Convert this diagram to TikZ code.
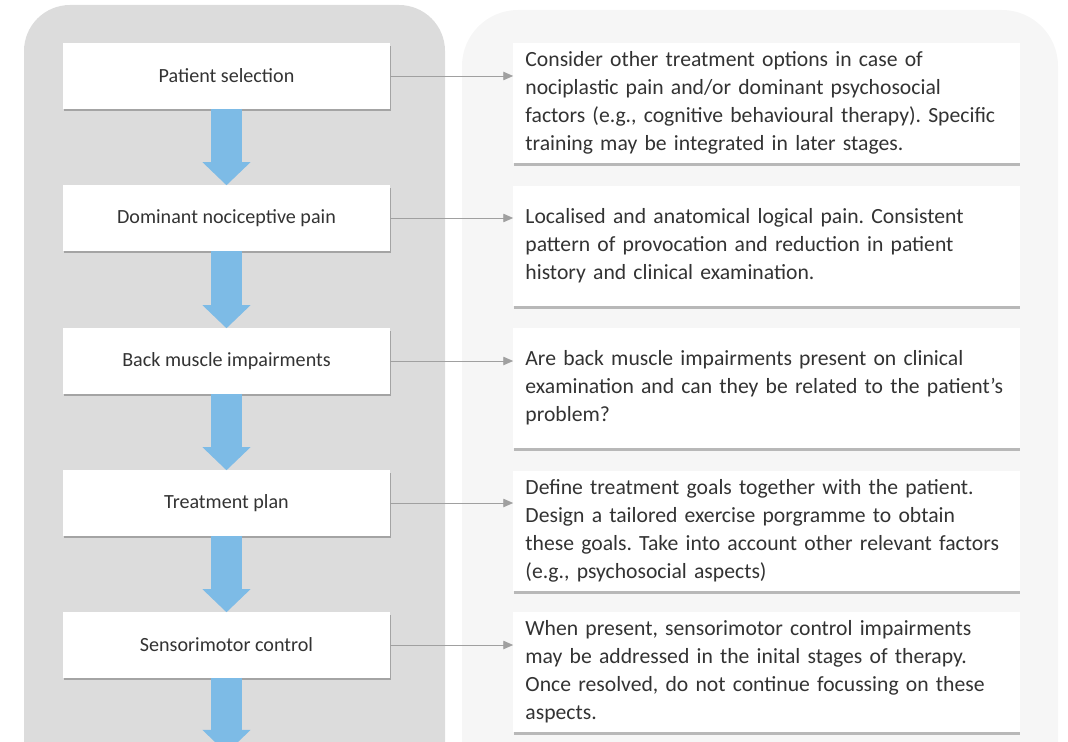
\documentclass[tikz,border=0pt]{standalone}
\usepackage{fontspec}
\setmainfont{Carlito}
\usepackage{tikz}
\usetikzlibrary{arrows.meta,shadows}
\definecolor{panelGray}{HTML}{DCDCDC}
\definecolor{panelLight}{HTML}{F6F6F6}
\definecolor{flowBlue}{HTML}{7DBBE6}
\definecolor{txtGray}{HTML}{333333}
\definecolor{lineGray}{HTML}{A0A0A0}

\begin{document}
\begin{tikzpicture}[x=0.025cm, y=-0.025cm, font=\frenchspacing, text=txtGray,
  stage/.style={fill=white, minimum width=8.175cm, minimum height=1.625cm, align=center,
    font=\fontsize{14.3}{17}\selectfont\frenchspacing,
    drop shadow={shadow xshift=0.6pt, shadow yshift=-1.8pt, fill=black, opacity=0.25}},
  note/.style={fill=white, text width=12.05cm, inner xsep=0.3cm, minimum height=3cm, align=left,
    font=\fontsize{15.4}{19.9}\selectfont\frenchspacing,
    drop shadow={shadow xshift=0.6pt, shadow yshift=-1.8pt, fill=black, opacity=0.25}},
  flow/.style={flowBlue, line width=0.75cm, -{Triangle[width=1.2cm, length=0.575cm, line width=0pt]}},
  link/.style={lineGray, line width=0.6pt, -{Triangle[width=6pt, length=7pt]}}]
\useasboundingbox (0,0) rectangle (1068,742);
\clip (0,0) rectangle (1068,742);
% the two panels
\fill[panelGray, rounded corners=1.15cm] (24,5) rectangle (445,800);
\fill[panelLight, rounded corners=1.4cm] (462,10) rectangle (1058,800);
% stages
\node[stage] (sel)  at (226.5,76)  {Patient selection};
\node[stage] (noc)  at (226.5,218) {Dominant nociceptive pain};
\node[stage] (imp)  at (226.5,361) {Back muscle impairments};
\node[stage] (plan) at (226.5,503) {Treatment plan};
\node[stage] (smc)  at (226.5,645) {Sensorimotor control};
\coordinate (flowEnd) at (226.5,753);
% explanations
\node[note] (selN)  at (766.5,103) {Consider other treatment options in case of\\
  nociplastic pain and/or dominant psychosocial\\
  factors (e.g., cognitive behavioural therapy). Specific\\
  training may be integrated in later stages.};
\node[note] (nocN)  at (766.5,246) {Localised and anatomical logical pain. Consistent\\
  pattern of provocation and reduction in patient\\
  history and clinical examination.};
\node[note] (impN)  at (766.5,388) {Are back muscle impairments present on clinical\\
  examination and can they be related to the patient’s\\
  problem?};
\node[note] (planN) at (766.5,531) {Define treatment goals together with the patient.\\
  Design a tailored exercise porgramme to obtain\\
  these goals. Take into account other relevant factors\\
  (e.g., psychosocial aspects)};
\node[note] (smcN)  at (766.5,672) {When present, sensorimotor control impairments\\
  may be addressed in the inital stages of therapy.\\
  Once resolved, do not continue focussing on these\\
  aspects.};
% flow down the left panel
\draw[flow] (sel) -- (noc);
\draw[flow] (noc) -- (imp);
\draw[flow] (imp) -- (plan);
\draw[flow] (plan) -- (smc);
\draw[flow] (smc) -- (flowEnd);
% links to the explanations
\draw[link] (sel.east)  -- (sel.east -| selN.west);
\draw[link] (noc.east)  -- (noc.east -| nocN.west);
\draw[link] (imp.east)  -- (imp.east -| impN.west);
\draw[link] (plan.east) -- (plan.east -| planN.west);
\draw[link] (smc.east)  -- (smc.east -| smcN.west);
\end{tikzpicture}
\end{document}
